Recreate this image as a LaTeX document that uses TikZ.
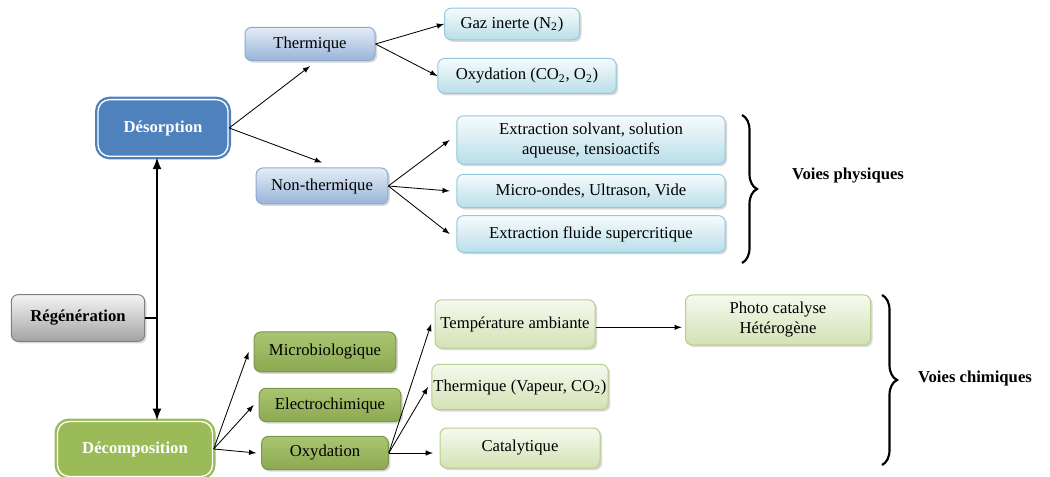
\documentclass[tikz,border=0pt]{standalone}
\usepackage{fontspec}
\setmainfont{Liberation Serif}
\usetikzlibrary{shadows,decorations.pathreplacing}

\definecolor{bluetop}{HTML}{E4ECF6}
\definecolor{bluebot}{HTML}{98B4D8}
\definecolor{bluedraw}{HTML}{8EA9CF}
\definecolor{bluedark}{HTML}{4F81BD}
\definecolor{cyantop}{HTML}{F6FBFD}
\definecolor{cyanbot}{HTML}{B9DEE9}
\definecolor{cyandraw}{HTML}{93C9DA}
\definecolor{greenmid}{HTML}{9BBB59}
\definecolor{greentop}{HTML}{F6F9EF}
\definecolor{greenbot}{HTML}{D3E2B4}
\definecolor{greendraw}{HTML}{B7CF8C}
\definecolor{greytop}{HTML}{F4F4F4}
\definecolor{greybot}{HTML}{A3A3A3}

\begin{document}
\begin{tikzpicture}[x=0.6pt,y=-0.6pt,
  box/.style={rounded corners=4pt,align=center,inner sep=1pt,line width=0.6pt,
    drop shadow={opacity=0.3,shadow xshift=1.2pt,shadow yshift=-1.2pt}},
  bluebox/.style={box,draw=bluedraw,top color=bluetop,bottom color=bluebot},
  cyanbox/.style={box,draw=cyandraw,top color=cyantop,bottom color=cyanbot},
  greenbox/.style={box,draw=greenmid!80!black,top color=greenmid!85!white,bottom color=greenmid!90!black},
  lightbox/.style={box,draw=greendraw,top color=greentop,bottom color=greenbot},
  mainbox/.style={box,rounded corners=7pt,line width=1.4pt,double=white,double distance=0.8pt,
    text=white,font=\bfseries},
  link/.style={-latex,line width=0.5pt},
  bracket/.style={decorate,decoration={brace,amplitude=9pt},line width=1.3pt}]
\useasboundingbox (0,0) rectangle (1050,477);

% desorption side
\node[mainbox,draw=bluedark,fill=bluedark,minimum width=78pt,minimum height=34pt] (desorp) at (163,128) {Désorption};
\node[bluebox,minimum width=78pt,minimum height=20pt] (therm) at (310,44) {Thermique};
\node[bluebox,minimum width=79pt,minimum height=21.6pt] (nontherm) at (322,186) {Non-thermique};
\node[cyanbox,minimum width=81pt,minimum height=19pt] (gaz) at (512,24) {Gaz inerte (N\textsubscript{2})};
\node[cyanbox,minimum width=107pt,minimum height=21pt] (oxyd) at (527,76) {Oxydation (CO\textsubscript{2}, O\textsubscript{2})};
\node[cyanbox,minimum width=161pt,minimum height=29pt] (solvant) at (591,140) {Extraction solvant, solution\\ aqueuse, tensioactifs};
\node[cyanbox,minimum width=161pt,minimum height=20pt] (ondes) at (591,191) {Micro-ondes, Ultrason, Vide};
\node[cyanbox,minimum width=161pt,minimum height=22pt] (fluide) at (591,234) {Extraction fluide supercritique};

% regeneration
\node[box,draw=gray,top color=greytop,bottom color=greybot,minimum width=80pt,minimum height=28pt,font=\bfseries] (regen) at (78,318) {Régénération};
\coordinate (axe) at (157,318);

% decomposition side
\node[mainbox,draw=greenmid,fill=greenmid,minimum width=93pt,minimum height=33pt] (decomp) at (135,449) {Décomposition};
\node[greenbox,minimum width=85pt,minimum height=24pt] (microbio) at (325,352) {Microbiologique};
\node[greenbox,minimum width=85pt,minimum height=20pt] (electro) at (330,405) {Electrochimique};
\node[greenbox,minimum width=76pt,minimum height=20pt] (oxydation) at (325,453) {Oxydation};
\node[lightbox,minimum width=96pt,minimum height=29pt] (ambiante) at (515,324) {Température ambiante};
\node[lightbox,minimum width=103pt,minimum height=27pt] (vapeur) at (520,387) {Thermique (Vapeur, CO\textsubscript{2})};
\node[lightbox,minimum width=96pt,minimum height=24pt] (catal) at (520,448) {Catalytique};
\node[lightbox,minimum width=111pt,minimum height=30pt] (photo) at (778,320) {Photo catalyse\\ Hétérogène};

% links
\draw[latex-latex,line width=1.4pt] (axe |- desorp.south) -- (axe |- decomp.north);
\draw[line width=1.4pt] (regen.east) -- (axe);
\draw[link] (desorp.east) -- ([yshift=-3pt]therm.south);
\draw[link] (desorp.east) -- ([yshift=3pt]nontherm.north);
\draw[link] (therm.east) -- (gaz.west);
\draw[link] (therm.east) -- (oxyd.west);
\foreach \n in {solvant,ondes,fluide}
  \draw[link] (nontherm.east) -- ([xshift=-4pt]\n.west);
\foreach \n in {microbio,electro,oxydation}
  \draw[link] (decomp.east) -- ([xshift=-3pt]\n.west);
\draw[link] (oxydation.east) -- ([xshift=-2pt]ambiante.west);
\draw[link] (oxydation.east) -- ([xshift=-2pt]vapeur.west);
\draw[link] (oxydation.east) -- ([xshift=-4pt]oxydation.east -| catal.west);
\draw[link] ([yshift=-2pt]ambiante.east) -- ([yshift=-2pt,xshift=-2pt]ambiante.east -| photo.west);

% braces
\draw[bracket] (742,115) -- (742,263);
\node[font=\bfseries] (physiques) at (848,176) {Voies physiques};
\draw[bracket] (882,295) -- (882,465);
\node[font=\bfseries] (chimiques) at (975,378) {Voies chimiques};
\end{tikzpicture}
\end{document}
